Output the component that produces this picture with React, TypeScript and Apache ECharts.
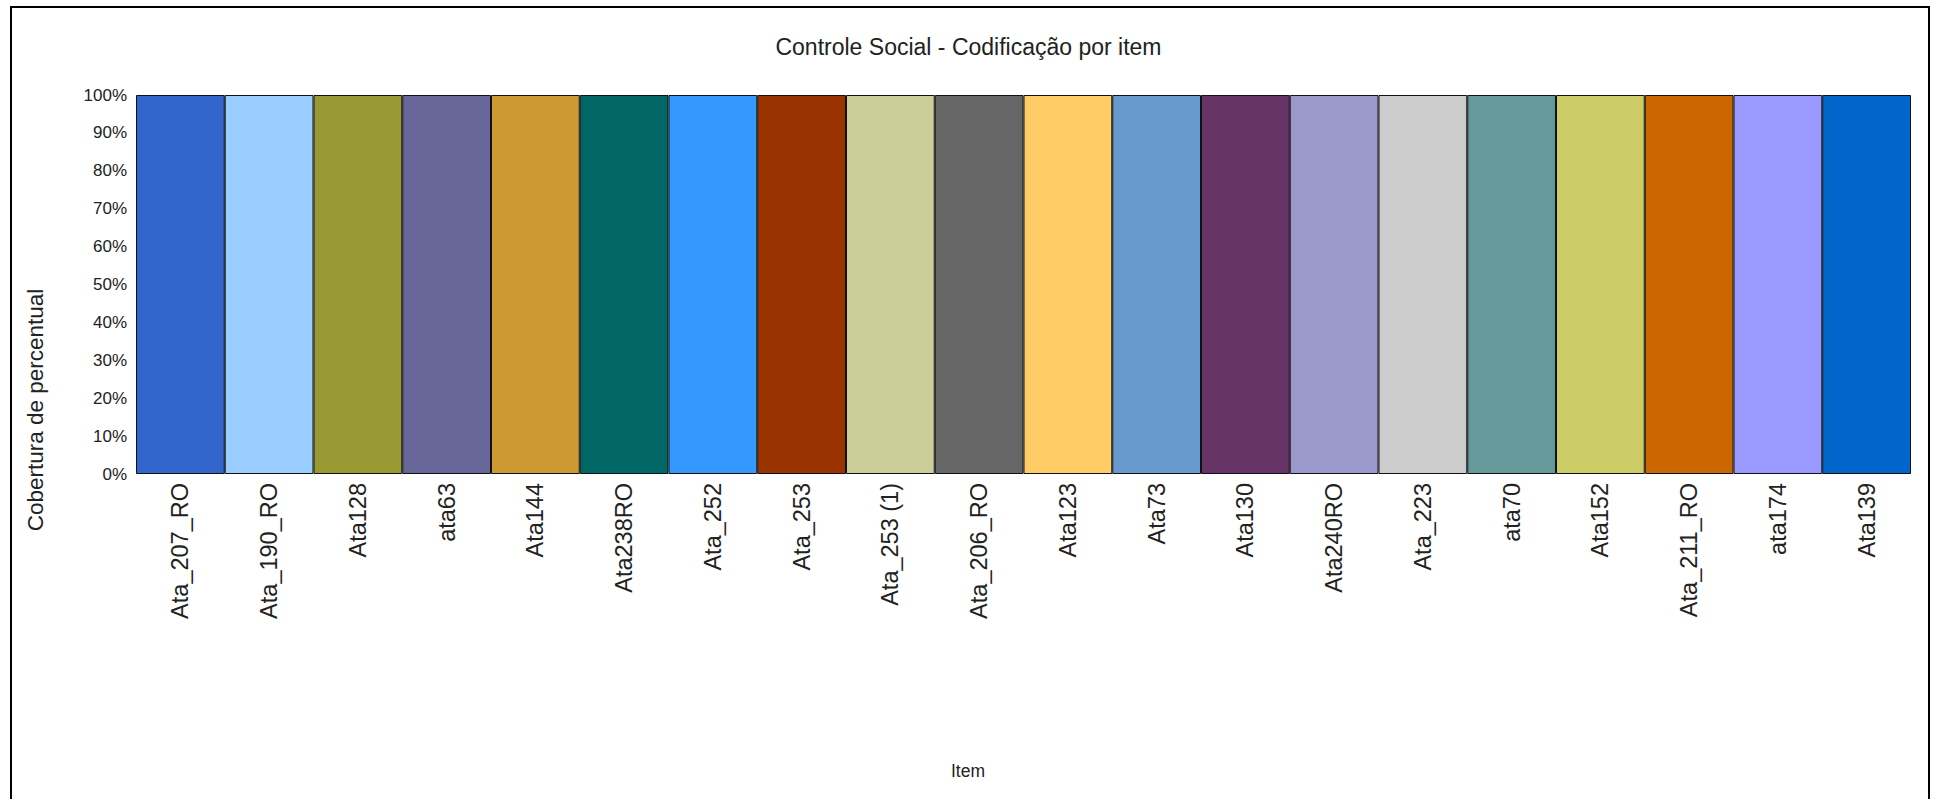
import React, { useEffect, useRef } from 'react';
import * as echarts from 'echarts';

const categories = [
  'Ata_207_RO', 'Ata_190_RO', 'Ata128', 'ata63', 'Ata144', 'Ata238RO', 'Ata_252',
  'Ata_253', 'Ata_253 (1)', 'Ata_206_RO', 'Ata123', 'Ata73', 'Ata130', 'Ata240RO',
  'Ata_223', 'ata70', 'Ata152', 'Ata_211_RO', 'ata174', 'Ata139',
];
const coverage = [100, 100, 100, 100, 100, 100, 100, 100, 100, 100, 100, 100, 100, 100, 100, 100, 100, 100, 100, 100];
const barColors = [
  '#3366CC', '#99CCFF', '#999933', '#666699', '#CC9933', '#006666', '#3399FF',
  '#993300', '#CCCC99', '#666666', '#FFCC66', '#6699CC', '#663366', '#9999CC',
  '#CCCCCC', '#669999', '#CCCC66', '#CC6600', '#9999FF', '#0066CC',
];
const titleText = 'Controle Social - Codificação por item';
const yAxisTitle = 'Cobertura de percentual';
const xAxisTitle = 'Item';

const FONT = "'Liberation Sans', Arial, sans-serif";
const TEXT = '#222';

export default function App() {
  const ref = useRef<HTMLDivElement>(null);
  useEffect(() => {
    document.body.style.margin = '0';
    if (!ref.current) return;
    const chart = echarts.init(ref.current, undefined, { renderer: 'svg' });
    chart.setOption({
      animation: false,
      backgroundColor: '#fff',
      title: {
        text: titleText,
        left: 'center',
        top: 30,
        textStyle: { fontFamily: FONT, fontSize: 23, fontWeight: 'normal', color: TEXT },
      },
      grid: { left: 136, right: 26, top: 95, bottom: 325, containLabel: false, outerBoundsMode: 'none' },
      xAxis: {
        type: 'category',
        data: categories,
        axisLine: { show: false },
        axisTick: { show: false },
        axisLabel: { interval: 0, rotate: 90, margin: 9, fontFamily: FONT, fontSize: 23.5, color: TEXT },
        splitLine: { show: false },
      },
      yAxis: {
        type: 'value',
        min: 0,
        max: 100,
        interval: 10,
        axisLine: { show: false },
        axisTick: { show: false },
        splitLine: { show: false },
        axisLabel: { formatter: '{value}%', margin: 9, fontFamily: FONT, fontSize: 17, color: TEXT },
      },
      series: [
        {
          type: 'bar',
          barCategoryGap: '0%',
          data: coverage.map((v, i) => ({ value: v, itemStyle: { color: barColors[i] } })),
          itemStyle: { borderColor: '#111', borderWidth: 1 },
        },
      ],
      graphic: [
        {
          type: 'rect',
          shape: { x: 11, y: 7, width: 1918, height: 800 },
          style: { fill: 'none', stroke: '#000', lineWidth: 2 },
          silent: true,
        },
        {
          type: 'text',
          x: 35,
          y: 410,
          rotation: Math.PI / 2,
          style: {
            text: yAxisTitle,
            fontFamily: FONT,
            fontSize: 22.5,
            fill: TEXT,
            align: 'center',
            verticalAlign: 'middle',
          },
          silent: true,
        },
        {
          type: 'text',
          x: 968,
          y: 771,
          style: {
            text: xAxisTitle,
            fontFamily: FONT,
            fontSize: 17.5,
            fill: TEXT,
            align: 'center',
            verticalAlign: 'middle',
          },
          silent: true,
        },
      ],
    });
    return () => chart.dispose();
  }, []);
  return <div ref={ref} style={{ width: 1937, height: 799 }} />;
}
